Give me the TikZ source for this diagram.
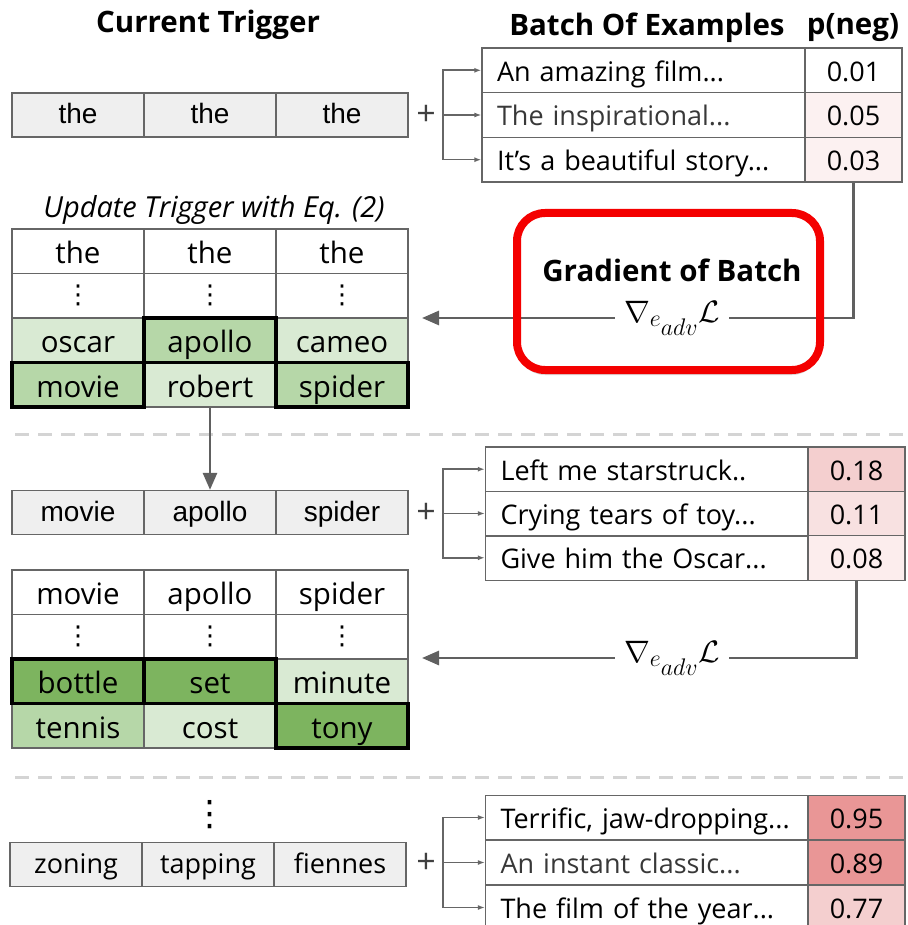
\documentclass[tikz,border=0pt]{standalone}
\usepackage{fix-cm}
\usepackage[no-math]{fontspec}
\setmainfont{Open Sans}
\newfontfamily\trigfont{Liberation Sans}
\newfontfamily\dotfont{DejaVu Sans}
\usetikzlibrary{arrows.meta}
\usetikzlibrary{shadows}
\DeclareMathSizes{31}{31}{24}{18}
\definecolor{cellline}{HTML}{666666}
\definecolor{arrowgray}{HTML}{606060}
\definecolor{sepgray}{HTML}{D4D4D4}
\definecolor{trigfill}{HTML}{EFEFEF}
\definecolor{lightgreen}{HTML}{D9EAD3}
\definecolor{midgreen}{HTML}{B6D7A8}
\definecolor{darkgreen}{HTML}{7DB45F}
\definecolor{negA}{HTML}{FCF1F1}
\definecolor{negB}{HTML}{FCEDED}
\definecolor{negC}{HTML}{F8E1E1}
\definecolor{negD}{HTML}{F4CFCF}
\definecolor{negE}{HTML}{E99696}
\definecolor{boxred}{HTML}{F40000}
\newcommand{\cellsize}{\fontsize{29.5}{32}\selectfont}
\newcommand{\sentsize}{\fontsize{27}{30}\selectfont}
\newcommand{\headsize}{\fontsize{29.5}{32}\selectfont}
\newcommand{\gradlabel}{$\nabla_{e_{\scriptstyle adv}}\mathcal{L}$}
\tikzset{
	cell/.style={draw=cellline, line width=1.3pt, minimum width=132pt, minimum height=44.5pt, inner sep=0pt, font=\cellsize, text height=29pt, text depth=4pt},
	vdot/.style={cell, font=\dotfont\fontsize{26}{28}\selectfont, text height=, text depth=},
	trig/.style={cell, fill=trigfill, minimum height=44pt, font=\trigfont\fontsize{28}{30}\selectfont, text height=25pt, text depth=7pt},
	pick/.style={draw=black, line width=3.6pt},
	sent/.style={draw=cellline, line width=1.3pt, minimum height=44.7pt, text width=293pt, inner xsep=15pt, inner ysep=0pt, align=left, font=\sentsize, text height=27pt, text depth=5pt},
	prob/.style={draw=cellline, line width=1.3pt, minimum width=97pt, minimum height=44.7pt, inner sep=0pt, font=\sentsize, text height=27pt, text depth=5pt},
	head/.style={font=\headsize\bfseries, inner sep=0pt},
	plus/.style={font=\fontsize{34}{36}\selectfont, text=black!75, inner sep=0pt},
	fork/.style={draw=cellline, line width=1.6pt, -{Latex[length=7pt,width=5pt]}},
	grad/.style={draw=arrowgray, line width=2.8pt},
	glabel/.style={font=\fontsize{31}{36}\selectfont, inner xsep=9pt, inner ysep=0pt},
	bigtip/.style={-{Triangle[length=17pt,width=14pt]}},
	sep/.style={draw=sepgray, line width=3pt, dash pattern=on 14pt off 9pt}
}

\begin{document}
\begin{tikzpicture}[x=1pt, y=-1pt]
\useasboundingbox (0,0) rectangle (907,925);
\clip (0,0) rectangle (907,925);

% Headers
\node[head] (hcur) at (208,25) {Current Trigger};
\node[head] (hbatch) at (647,28) {Batch Of Examples};
\node[head] (hneg) at (853,28) {p(neg)};

% red box behind the first gradient
\fill[white, rounded corners=28pt, drop shadow={opacity=0.3, shadow xshift=0pt, shadow yshift=-5pt}] (517,213) rectangle (820,370);

% first trigger
\node[trig] (ta1) at (78,115) {the};
\node[trig] (ta2) at (210,115) {the};
\node[trig] (ta3) at (342,115) {the};
\node[plus] (pa) at (426,115) {+};
\coordinate (fa) at (443,115);

% first batch
\node[sent] (sa1) at (643.5,70.3) {An amazing film...};
\node[sent, text=black!78] (sa2) at (643.5,115) {The inspirational...};
\node[sent] (sa3) at (643.5,159.7) {It's a beautiful story...};
\node[prob] (qa1) at (853.5,70.3) {0.01};
\node[prob, fill=negA] (qa2) at (853.5,115) {0.05};
\node[prob, fill=negA] (qa3) at (853.5,159.7) {0.03};
\draw[fork] (fa) |- (sa1.west);
\draw[fork] (fa) -- (sa2.west);
\draw[fork] (fa) |- (sa3.west);

% first gradient
\node[head] (gtitle) at (672,270) {Gradient of Batch};
\node[glabel] (ga) at (672,318) {\gradlabel};
\coordinate (ea) at (422,318);
\draw[grad] (qa3.south) |- (ga.east);
\draw[grad, bigtip] (ga.west) -- (ea);
\draw[boxred, line width=8pt, rounded corners=28pt] (517,213) rectangle (820,370);

% first update
\node[font=\fontsize{29}{32}\selectfont\itshape, inner sep=0pt] (hupd) at (214,210) {Update Trigger with Eq. (2)};
\node[cell] (ua11) at (78,251.25) {the};
\node[cell] (ua12) at (210,251.25) {the};
\node[cell] (ua13) at (342,251.25) {the};
\node[vdot] (ua21) at (78,295.75) {⋮};
\node[vdot] (ua22) at (210,295.75) {⋮};
\node[vdot] (ua23) at (342,295.75) {⋮};
\node[cell, fill=lightgreen] (ua31) at (78,340.25) {oscar};
\node[cell, fill=lightgreen] (ua33) at (342,340.25) {cameo};
\node[cell, fill=lightgreen] (ua42) at (210,384.75) {robert};
\node[cell, fill=midgreen, pick] (ua32) at (210,340.25) {apollo};
\node[cell, fill=midgreen, pick] (ua41) at (78,384.75) {movie};
\node[cell, fill=midgreen, pick] (ua43) at (342,384.75) {spider};

\draw[sep] (15,434) -- (907,434);

% second trigger
\node[trig] (tb1) at (78,512.5) {movie};
\node[trig] (tb2) at (210,512.5) {apollo};
\node[trig] (tb3) at (342,512.5) {spider};
\node[plus] (pb) at (426,513) {+};
\coordinate (fb) at (443,513.5);
\draw[grad, bigtip] (ua42.south) -- (tb2.north);

% second batch
\node[sent] (sb1) at (647,469.2) {Left me starstruck..};
\node[sent] (sb2) at (647,513.5) {Crying tears of toy...};
\node[sent] (sb3) at (647,557.8) {Give him the Oscar...};
\node[prob, fill=negD] (qb1) at (856.5,469.2) {0.18};
\node[prob, fill=negC] (qb2) at (856.5,513.5) {0.11};
\node[prob, fill=negB] (qb3) at (856.5,557.8) {0.08};
\draw[fork] (fb) |- (sb1.west);
\draw[fork] (fb) -- (sb2.west);
\draw[fork] (fb) |- (sb3.west);

% second gradient
\node[glabel, fill=white] (gb) at (672,658) {\gradlabel};
\coordinate (eb) at (422,658);
\draw[grad] (qb3.south) |- (gb.east);
\draw[grad, bigtip] (gb.west) -- (eb);

% second update
\node[cell] (ub11) at (78,592.25) {movie};
\node[cell] (ub12) at (210,592.25) {apollo};
\node[cell] (ub13) at (342,592.25) {spider};
\node[vdot] (ub21) at (78,636.75) {⋮};
\node[vdot] (ub22) at (210,636.75) {⋮};
\node[vdot] (ub23) at (342,636.75) {⋮};
\node[cell, fill=lightgreen] (ub33) at (342,681.25) {minute};
\node[cell, fill=midgreen] (ub41) at (78,725.75) {tennis};
\node[cell, fill=lightgreen] (ub42) at (210,725.75) {cost};
\node[cell, fill=darkgreen, pick] (ub31) at (78,681.25) {bottle};
\node[cell, fill=darkgreen, pick] (ub32) at (210,681.25) {set};
\node[cell, fill=darkgreen, pick] (ub43) at (342,725.75) {tony};

\draw[sep] (15,777) -- (907,777);

% final trigger
\node[font=\dotfont\fontsize{35}{38}\selectfont, inner sep=0pt] (dots) at (210,815) {⋮};
\node[trig, font=\sentsize] (tc1) at (76,864.5) {zoning};
\node[trig, font=\sentsize] (tc2) at (208,864.5) {tapping};
\node[trig, font=\sentsize] (tc3) at (340,864.5) {fiennes};
\node[plus] (pc) at (426,863) {+};
\coordinate (fc) at (443,862.5);

% final batch
\node[sent] (sc1) at (647,817.5) {Terrific, jaw-dropping...};
\node[sent, text=black!78] (sc2) at (647,862.5) {An instant classic...};
\node[sent] (sc3) at (647,907.5) {The film of the year...};
\node[prob, fill=negE] (qc1) at (856.5,817.5) {0.95};
\node[prob, fill=negE] (qc2) at (856.5,862.5) {0.89};
\node[prob, fill=negD] (qc3) at (856.5,907.5) {0.77};
\draw[fork] (fc) |- (sc1.west);
\draw[fork] (fc) -- (sc2.west);
\draw[fork] (fc) |- (sc3.west);
\end{tikzpicture}
\end{document}
